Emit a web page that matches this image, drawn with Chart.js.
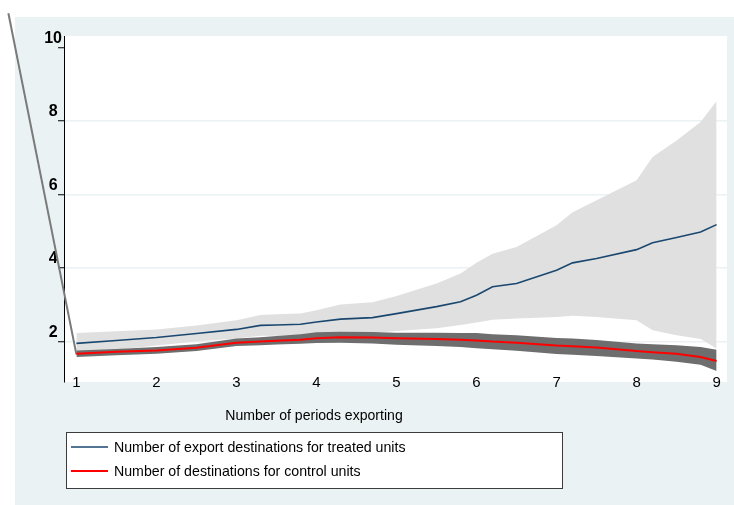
<!DOCTYPE html>
<html>
<head>
<meta charset="utf-8">
<script src="https://cdn.jsdelivr.net/npm/chart.js@4/dist/chart.umd.min.js"></script>
<style>
  html, body { margin: 0; padding: 0; background: #ffffff; }
  #wrap { width: 734px; height: 505px; }
</style>
</head>
<body>
<div id="wrap"><canvas id="c" width="734" height="505"></canvas></div>
<script>
// Number of periods exporting (x positions of the estimates)
const periods = [1, 1.5, 2, 2.5, 3, 3.3, 3.5, 3.8, 4, 4.3, 4.7, 5, 5.5, 5.8, 6, 6.2, 6.5, 7, 7.2, 7.5, 8, 8.2, 8.5, 8.8, 9];

// Treated units: mean number of export destinations and its confidence band
const treatedMean  = [1.95, 2.03, 2.11, 2.22, 2.33, 2.44, 2.45, 2.47, 2.53, 2.61, 2.65, 2.76, 2.95, 3.08, 3.26, 3.49, 3.58, 3.94, 4.14, 4.26, 4.50, 4.69, 4.83, 4.98, 5.18];
const treatedUpper = [2.23, 2.28, 2.33, 2.44, 2.58, 2.72, 2.74, 2.76, 2.85, 3.01, 3.07, 3.24, 3.58, 3.85, 4.14, 4.39, 4.57, 5.16, 5.52, 5.84, 6.39, 7.02, 7.47, 7.97, 8.54];
const treatedLower = [1.67, 1.78, 1.89, 2.00, 2.08, 2.16, 2.16, 2.18, 2.21, 2.21, 2.23, 2.29, 2.36, 2.45, 2.52, 2.59, 2.63, 2.67, 2.70, 2.67, 2.58, 2.31, 2.17, 2.07, 1.81];

// Control units: mean number of destinations and its confidence band
const controlMean  = [1.67, 1.72, 1.76, 1.83, 1.97, 2.00, 2.02, 2.05, 2.09, 2.12, 2.11, 2.09, 2.07, 2.05, 2.03, 2.00, 1.97, 1.89, 1.87, 1.84, 1.74, 1.71, 1.67, 1.58, 1.47];
const controlUpper = [1.76, 1.80, 1.85, 1.93, 2.08, 2.12, 2.15, 2.20, 2.25, 2.27, 2.26, 2.24, 2.24, 2.23, 2.23, 2.20, 2.17, 2.10, 2.08, 2.04, 1.95, 1.93, 1.90, 1.85, 1.78];
const controlLower = [1.58, 1.63, 1.67, 1.74, 1.88, 1.90, 1.92, 1.94, 1.96, 1.97, 1.95, 1.91, 1.88, 1.85, 1.82, 1.79, 1.75, 1.66, 1.64, 1.61, 1.54, 1.51, 1.45, 1.37, 1.20];

// Stray band edge running in from the left of the plot
const edgeX = [0.15, 1];
const edgeY = [10.93, 1.65];

// Axis ticks and labels
const xTicks = [1, 2, 3, 4, 5, 6, 7, 8, 9];
const xTickLabels = ['1', '2', '3', '4', '5', '6', '7', '8', '9'];
const yTicks = [2, 4, 6, 8, 10];
const yTickLabels = ['2', '4', '6', '8', '10'];

const xTitle = 'Number of periods exporting';
const seriesNames = [
  'Number of export destinations for treated units',
  'Number of destinations for control units'
];

const FONT = '"Liberation Sans", Arial, Helvetica, sans-serif';
const BG = '#eaf2f3';

const pts = (xs, ys) => xs.map((x, i) => ({ x: x, y: ys[i] }));

// Text drawn slightly narrower than the font's natural width
function condensedText(ctx, text, x, y, squeeze) {
  ctx.save();
  ctx.translate(x, y);
  ctx.scale(squeeze, 1);
  ctx.fillText(text, 0, 0);
  ctx.restore();
}

const stataFrame = {
  id: 'stataFrame',
  beforeDraw(chart) {
    const { ctx, chartArea: a } = chart;
    ctx.save();
    ctx.fillStyle = '#ffffff';
    ctx.fillRect(0, 0, chart.width, chart.height);
    ctx.fillStyle = BG;
    ctx.fillRect(15, 17, chart.width - 15, chart.height - 17);
    ctx.fillStyle = '#ffffff';
    ctx.fillRect(a.left, a.top, a.right - a.left, a.bottom - a.top);
    ctx.restore();
  },
  afterDraw(chart) {
    const { ctx, chartArea: a } = chart;
    const xs = chart.scales.x;
    ctx.save();
    // x tick labels, centred on the lower edge of the plot region
    ctx.fillStyle = '#000000';
    ctx.font = '15px ' + FONT;
    ctx.textAlign = 'center';
    ctx.textBaseline = 'middle';
    xTicks.forEach((v, i) => {
      ctx.fillText(xTickLabels[i], xs.getPixelForValue(v), a.bottom + 1);
    });
    // x axis title
    ctx.font = '14.5px ' + FONT;
    condensedText(ctx, xTitle, 314, 416, 0.97);
    // legend box
    ctx.fillStyle = '#ffffff';
    ctx.fillRect(66, 432, 496, 56);
    ctx.strokeStyle = '#3c3c3c';
    ctx.lineWidth = 1;
    ctx.strokeRect(66.5, 432.5, 496, 56);
    const rows = [447, 471];
    [0, 1].forEach((di, r) => {
      const ds = chart.data.datasets[di];
      ctx.strokeStyle = ds.borderColor;
      ctx.lineWidth = ds.borderWidth;
      ctx.beginPath();
      ctx.moveTo(71, rows[r]);
      ctx.lineTo(108, rows[r]);
      ctx.stroke();
      ctx.fillStyle = '#000000';
      ctx.font = '15px ' + FONT;
      ctx.textAlign = 'left';
      ctx.textBaseline = 'middle';
      condensedText(ctx, ds.label, 114, rows[r] + 1, 0.945);
    });
    ctx.restore();
  }
};

new Chart(document.getElementById('c'), {
  type: 'line',
  data: {
    datasets: [
      { label: seriesNames[0], data: pts(periods, treatedMean), borderColor: '#1a476f', borderWidth: 1.6,
        pointRadius: 0, fill: false, order: 0 },
      { label: seriesNames[1], data: pts(periods, controlMean), borderColor: '#ff0000', borderWidth: 2,
        pointRadius: 0, fill: false, order: 1 },
      { label: 'control upper', data: pts(periods, controlUpper), borderWidth: 0, borderColor: 'rgba(0,0,0,0)',
        backgroundColor: '#6e6e6e', pointRadius: 0, fill: 3, order: 3 },
      { label: 'control lower', data: pts(periods, controlLower), borderWidth: 0, borderColor: 'rgba(0,0,0,0)',
        pointRadius: 0, fill: false, order: 4 },
      { label: 'treated upper', data: pts(periods, treatedUpper), borderWidth: 0, borderColor: 'rgba(0,0,0,0)',
        backgroundColor: '#e0e0e0', pointRadius: 0, fill: 5, order: 5 },
      { label: 'treated lower', data: pts(periods, treatedLower), borderWidth: 0, borderColor: 'rgba(0,0,0,0)',
        pointRadius: 0, fill: false, order: 6 },
      { label: 'edge', data: pts(edgeX, edgeY), borderColor: '#7a7a7a', borderWidth: 2,
        pointRadius: 0, fill: false, clip: false, order: 2 }
    ]
  },
  options: {
    responsive: false,
    animation: false,
    events: [],
    layout: { padding: { left: 0, right: 7, top: 36, bottom: 0 } },
    plugins: { legend: { display: false }, tooltip: { enabled: false }, title: { display: false } },
    elements: { line: { tension: 0 } },
    scales: {
      x: {
        type: 'linear',
        min: 0.845,
        max: 9.13,
        afterBuildTicks: (s) => { s.ticks = xTicks.map(v => ({ value: v })); },
        afterFit: (s) => { s.height = 123; },
        grid: { display: false, drawTicks: false },
        border: { display: false },
        ticks: { display: false }
      },
      y: {
        type: 'linear',
        min: 0.9,
        max: 10.31,
        afterBuildTicks: (s) => { s.ticks = yTicks.map(v => ({ value: v })); },
        afterFit: (s) => { s.width = 64; },
        grid: {
          color: (c) => (c.tick && c.tick.value === 10) ? 'rgba(0,0,0,0)' : BG,
          lineWidth: 1.5,
          tickColor: '#000000',
          tickLength: 6,
          tickWidth: 1
        },
        border: { display: true, color: '#000000', width: 1 },
        ticks: {
          padding: -4,
          crossAlign: 'center',
          labelOffset: -9,
          color: '#000000',
          font: { family: FONT, size: 16, weight: 'bold' },
          autoSkip: false,
          callback: (v) => { const i = yTicks.indexOf(v); return i >= 0 ? yTickLabels[i] : ''; }
        }
      }
    }
  },
  plugins: [stataFrame]
});
</script>
</body>
</html>
